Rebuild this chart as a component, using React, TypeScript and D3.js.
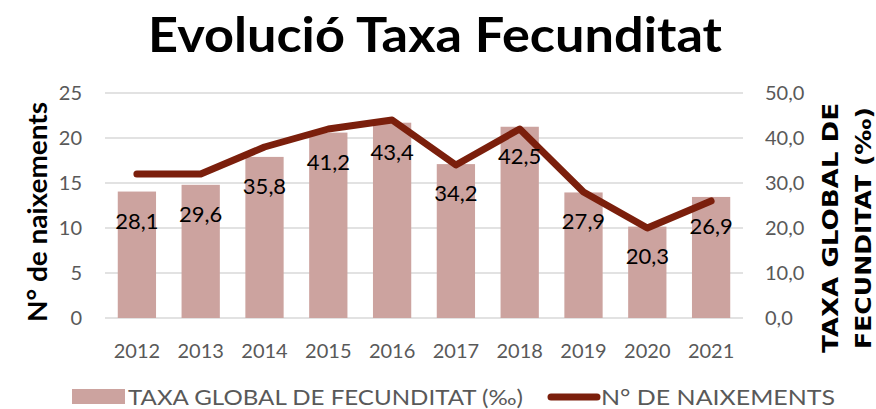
import React from 'react';
import * as d3 from 'd3';

const years = ['2012', '2013', '2014', '2015', '2016', '2017', '2018', '2019', '2020', '2021'];
const taxaFecunditat = [28.1, 29.6, 35.8, 41.2, 43.4, 34.2, 42.5, 27.9, 20.3, 26.9];
const naixements = [16, 16, 19, 21, 22, 17, 21, 14, 10, 13];
const leftTicks = [0, 5, 10, 15, 20, 25];
const rightTicks = [0, 10, 20, 30, 40, 50];

const W = 876;
const H = 409;
const margin = { top: 93, right: 133, bottom: 91, left: 105 };

const barColor = '#CCA39F';
const lineColor = '#7B1F0C';
const axisText = '#595959';
const font = 'Lato, "Noto Sans", sans-serif';

const fmt = (v: number) => v.toFixed(1).replace('.', ',');

export default function App() {
  const innerH = H - margin.top - margin.bottom;

  const x = d3.scaleBand<string>()
    .domain(years)
    .range([margin.left, W - margin.right])
    .paddingInner(0.4)
    .paddingOuter(0.2);

  const yLeft = d3.scaleLinear().domain([0, 25]).range([margin.top + innerH, margin.top]);
  const yRight = d3.scaleLinear().domain([0, 50]).range([margin.top + innerH, margin.top]);

  const line = d3.line<number>()
    .x((_, i) => (x(years[i]) as number) + x.bandwidth() / 2)
    .y(d => yLeft(d));

  return (
    <svg width={W} height={H} style={{ position: 'absolute', left: 0, top: 0, background: '#fff' }}>
      <text x={435} y={52} textAnchor="middle" fontFamily={font} fontWeight="bold" fontSize={48}
        textLength={574} lengthAdjust="spacingAndGlyphs" fill="#000">
        Evolució Taxa Fecunditat
      </text>

      {/* gridlines */}
      {leftTicks.map(t => (
        <line key={'g' + t} x1={margin.left} x2={W - margin.right} y1={yLeft(t)} y2={yLeft(t)}
          stroke="#D9D9D9" strokeWidth={1.5} />
      ))}

      {/* bars */}
      {taxaFecunditat.map((v, i) => (
        <rect key={'b' + i} x={x(years[i])} y={yRight(v)} width={x.bandwidth()}
          height={yRight(0) - yRight(v)} fill={barColor} />
      ))}

      {/* line */}
      <path d={line(naixements) || ''} fill="none" stroke={lineColor} strokeWidth={7}
        strokeLinecap="round" strokeLinejoin="round" />

      {/* bar labels */}
      {taxaFecunditat.map((v, i) => (
        <text key={'l' + i} x={(x(years[i]) as number) + x.bandwidth() / 2} y={yRight(v) + 37}
          textAnchor="middle" fontFamily={font} fontSize={22} fill="#000">
          {fmt(v)}
        </text>
      ))}

      {/* left axis */}
      {leftTicks.map(t => (
        <text key={'lt' + t} x={82} y={yLeft(t) + 7} textAnchor="end" fontFamily={font}
          fontSize={20} fill={axisText}>{t}</text>
      ))}

      {/* right axis */}
      {rightTicks.map(t => (
        <text key={'rt' + t} x={765} y={yRight(t) + 7} textAnchor="start" fontFamily={font}
          fontSize={20} fill={axisText}>{fmt(t)}</text>
      ))}

      {/* x axis */}
      {years.map(yr => (
        <text key={'x' + yr} x={(x(yr) as number) + x.bandwidth() / 2} y={358} textAnchor="middle"
          fontFamily={font} fontSize={20} fill={axisText}>{yr}</text>
      ))}

      {/* axis titles */}
      <text transform="translate(47,212) rotate(-90)" textAnchor="middle" fontFamily={font}
        fontWeight="bold" fontSize={26} fill="#000" textLength={220} lengthAdjust="spacingAndGlyphs">N° de naixements</text>
      <text transform="translate(838,228) rotate(-90)" textAnchor="middle" fontFamily='"DejaVu Sans", sans-serif'
        fontWeight="bold" fontSize={22} fill="#000" textLength={250} lengthAdjust="spacingAndGlyphs">TAXA GLOBAL DE</text>
      <text transform="translate(871,228) rotate(-90)" textAnchor="middle" fontFamily='"DejaVu Sans", sans-serif'
        fontWeight="bold" fontSize={21} fill="#000" textLength={242} lengthAdjust="spacingAndGlyphs">FECUNDITAT (‰)</text>

      {/* legend */}
      <rect x={72} y={389} width={53} height={15} fill={barColor} />
      <text x={128} y={405} fontFamily={font} fontSize={22} fill={axisText}
        textLength={395} lengthAdjust="spacingAndGlyphs">TAXA GLOBAL DE FECUNDITAT (‰)</text>
      <line x1={551} x2={597} y1={397} y2={397} stroke={lineColor} strokeWidth={7} strokeLinecap="round" />
      <text x={601} y={405} fontFamily={font} fontSize={22} fill={axisText}
        textLength={234} lengthAdjust="spacingAndGlyphs">N° DE NAIXEMENTS</text>
    </svg>
  );
}
